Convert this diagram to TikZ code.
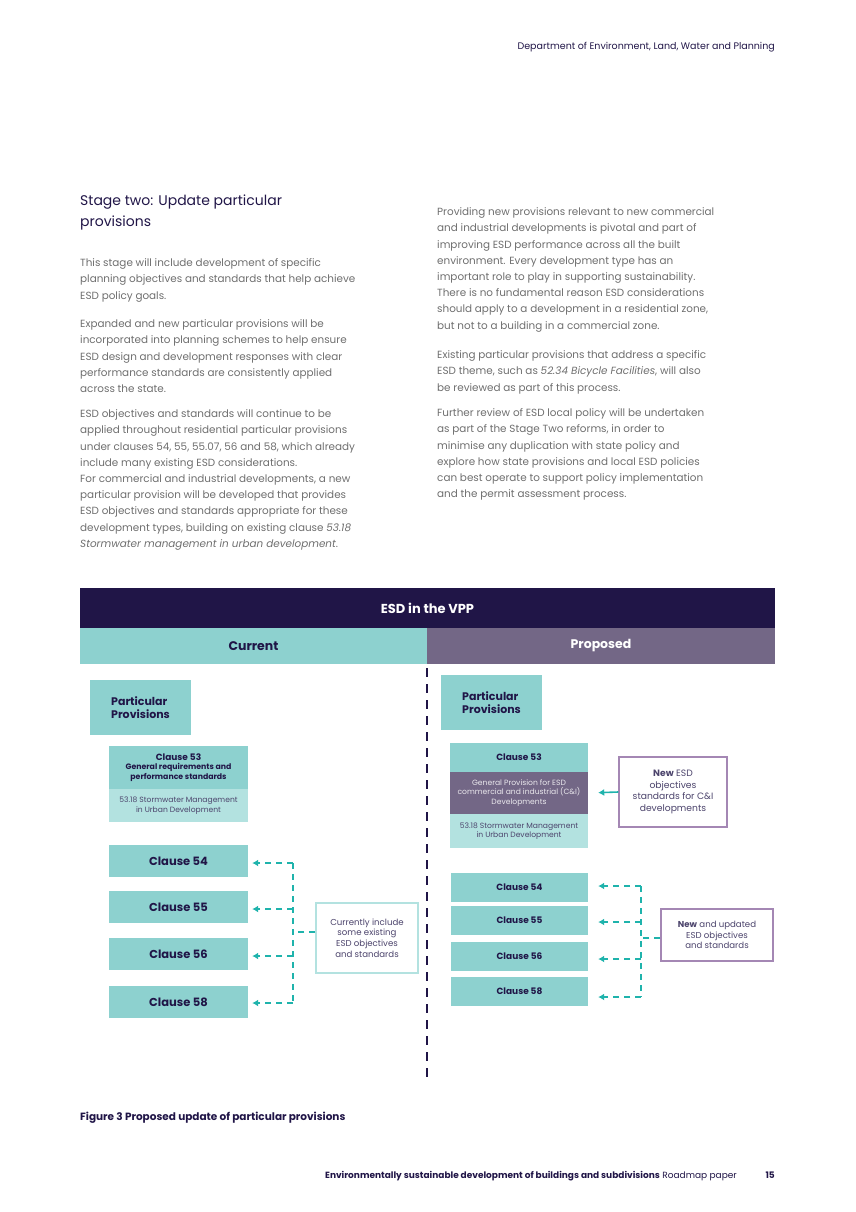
\documentclass[tikz,border=0pt]{standalone}
\usepackage{fontspec}
\setmainfont{Poppins}
\usepackage{tikz}
\usetikzlibrary{arrows.meta,positioning}
\definecolor{navy}{HTML}{201547}
\definecolor{teal}{HTML}{8DD1CF}
\definecolor{lteal}{HTML}{B3E2E0}
\definecolor{plum}{HTML}{736786}
\definecolor{plumline}{HTML}{A487B4}
\definecolor{arrowteal}{HTML}{1FB3AC}
\definecolor{bodygrey}{HTML}{6E6E6E}
\tikzset{
  bodyline/.style={anchor=mid west, inner sep=0pt, text=bodygrey, font=\fontsize{10.4}{12}\selectfont},
  clause/.style={fill=teal, text=navy, inner sep=0pt, minimum width=139pt, font=\bfseries},
  ppbox/.style={fill=teal, text=navy, inner sep=0pt, minimum width=101pt, minimum height=55pt, align=left, font=\fontsize{11}{13}\selectfont\bfseries},
  notebox/.style={draw, line width=1.2pt, fill=white, text=navy!80, align=center, inner sep=0pt, font=\fontsize{8.6}{10.6}\selectfont},
  dashline/.style={arrowteal, line width=1.5pt, dash pattern=on 6pt off 5pt},
  dasharrow/.style={dashline, -{Latex[length=6pt,width=7pt]}, shorten >=4pt}
}
\begin{document}
\begin{tikzpicture}[x=1pt,y=-1pt]
\useasboundingbox (0,0) rectangle (856,1212);
% page header
\node[anchor=mid east, inner sep=0pt, text=navy, font=\fontsize{9.5}{11}\selectfont] (dept) at (775,47) {Department of Environment, Land, Water and Planning};

% left column
\node[anchor=mid west, inner sep=0pt, text=navy, align=left, font=\fontsize{14}{21}\selectfont] (heading) at (80,224) {Stage two: Update particular\\provisions};
\foreach \t [count=\i] in {{This stage will include development of specific},
  {planning objectives and standards that help achieve},{ESD policy goals.}}
  \node[bodyline] (pa\i) at (80,{264+16.2*(\i-1)}) {\t};
\foreach \t [count=\i] in {{Expanded and new particular provisions will be},
  {incorporated into planning schemes to help ensure},
  {ESD design and development responses with clear},
  {performance standards are consistently applied},{across the state.}}
  \node[bodyline] (pb\i) at (80,{325+16.2*(\i-1)}) {\t};
\foreach \t [count=\i] in {{ESD objectives and standards will continue to be},
  {applied throughout residential particular provisions},
  {under clauses 54, 55, 55.07, 56 and 58, which already},
  {include many existing ESD considerations.},
  {For commercial and industrial developments, a new},
  {particular provision will be developed that provides},
  {ESD objectives and standards appropriate for these},
  {development types, building on existing clause \textit{53.18}},
  {\textit{Stormwater management in urban development}.}}
  \node[bodyline] (pc\i) at (80,{415+16.2*(\i-1)}) {\t};

% right column
\foreach \t [count=\i] in {{Providing new provisions relevant to new commercial},
  {and industrial developments is pivotal and part of},
  {improving ESD performance across all the built},
  {environment. Every development type has an},
  {important role to play in supporting sustainability.},
  {There is no fundamental reason ESD considerations},
  {should apply to a development in a residential zone,},
  {but not to a building in a commercial zone.}}
  \node[bodyline] (qa\i) at (437,{213+16.2*(\i-1)}) {\t};
\foreach \t [count=\i] in {{Existing particular provisions that address a specific},
  {ESD theme, such as \textit{52.34 Bicycle Facilities}, will also},
  {be reviewed as part of this process.}}
  \node[bodyline] (qb\i) at (437,{356+16.2*(\i-1)}) {\t};
\foreach \t [count=\i] in {{Further review of ESD local policy will be undertaken},
  {as part of the Stage Two reforms, in order to},
  {minimise any duplication with state policy and},
  {explore how state provisions and local ESD policies},
  {can best operate to support policy implementation},
  {and the permit assessment process.}}
  \node[bodyline] (qc\i) at (437,{414+16.2*(\i-1)}) {\t};

% diagram headers
\fill[navy] (80,588) rectangle (775,628);
\node[text=white, font=\fontsize{13}{15}\selectfont\bfseries] (title) at (427.5,608) {ESD in the VPP};
\fill[teal] (80,628) rectangle (427,664);
\node[text=navy, font=\fontsize{12.5}{15}\selectfont\bfseries] (cur) at (253.5,646) {Current};
\fill[plum] (427,628) rectangle (775,664);
\node[text=white, font=\fontsize{12.5}{15}\selectfont\bfseries] (prop) at (601,646) {Proposed};
\draw[navy, line width=2.6pt, dash pattern=on 9pt off 7pt] (427,668) -- (427,1082);

% current side
\node[ppbox] (lpp) at (140.5,707.5) {Particular\\Provisions};
\node[clause, minimum height=43pt, align=center, font=\fontsize{7.8}{9.6}\selectfont\bfseries] (l53) at (178.5,767.5) {{\fontsize{9}{11}\selectfont Clause 53}\\General requirements and\\performance standards};
\node[fill=lteal, text=navy!80, inner sep=0pt, minimum width=139pt, minimum height=33pt, align=center, font=\fontsize{7.6}{9.4}\selectfont] (l5318) at (178.5,805.5) {53.18 Stormwater Management\\in Urban Development};
\node[clause, minimum height=32pt, font=\fontsize{11.5}{13}\selectfont\bfseries] (l54) at (178.5,861) {Clause 54};
\node[clause, minimum height=32pt, font=\fontsize{11.5}{13}\selectfont\bfseries] (l55) at (178.5,907) {Clause 55};
\node[clause, minimum height=32pt, font=\fontsize{11.5}{13}\selectfont\bfseries] (l56) at (178.5,954) {Clause 56};
\node[clause, minimum height=32pt, font=\fontsize{11.5}{13}\selectfont\bfseries] (l58) at (178.5,1002) {Clause 58};
\node[notebox, draw=lteal, minimum width=102pt, minimum height=70pt] (lnote) at (367,938) {Currently include\\some existing\\ESD objectives\\and standards};
\coordinate (lb54) at (293,863);
\coordinate (lb55) at (293,909);
\coordinate (lb56) at (293,956);
\coordinate (lb58) at (293,1003);
\coordinate (lbm) at (293,932);
\draw[dashline] (lb54) -- (lb58);
\draw[dashline] (lnote.west |- lbm) -- (lbm);
\foreach \c in {54,55,56,58}
  \draw[dasharrow] (lb\c) -- (l\c.east |- lb\c);

% proposed side
\node[ppbox] (rpp) at (491.5,702.5) {Particular\\Provisions};
\node[clause, minimum width=138pt, minimum height=29pt, font=\fontsize{9}{11}\selectfont\bfseries] (r53) at (519,757.5) {Clause 53};
\node[fill=plum, text=white!85!plum, inner sep=0pt, minimum width=138pt, minimum height=42pt, align=center, font=\fontsize{7.6}{9.6}\selectfont] (rgp) at (519,793) {General Provision for ESD\\commercial and industrial (C\&I)\\Developments};
\node[fill=lteal, text=navy!80, inner sep=0pt, minimum width=138pt, minimum height=34pt, align=center, font=\fontsize{7.6}{9.4}\selectfont] (r5318) at (519,831) {53.18 Stormwater Management\\in Urban Development};
\node[notebox, draw=plumline, minimum width=108pt, minimum height=70pt, font=\fontsize{9.2}{11.4}\selectfont] (rnew) at (673,792) {\textbf{New} ESD\\objectives\\standards for C\&I\\developments};
\draw[arrowteal, line width=1.6pt, -{Latex[length=6pt,width=7pt]}, shorten >=10pt] (rnew.west) -- (rgp.east);
\node[clause, minimum width=137pt, minimum height=29pt, font=\fontsize{9}{11}\selectfont\bfseries] (r54) at (519.5,887.5) {Clause 54};
\node[clause, minimum width=137pt, minimum height=29pt, font=\fontsize{9}{11}\selectfont\bfseries] (r55) at (519.5,920.5) {Clause 55};
\node[clause, minimum width=137pt, minimum height=29pt, font=\fontsize{9}{11}\selectfont\bfseries] (r56) at (519.5,956.5) {Clause 56};
\node[clause, minimum width=137pt, minimum height=29pt, font=\fontsize{9}{11}\selectfont\bfseries] (r58) at (519.5,991.5) {Clause 58};
\node[notebox, draw=plumline, minimum width=112pt, minimum height=52pt] (rnote) at (717,935) {\textbf{New} and updated\\ESD objectives\\and standards};
\coordinate (rb54) at (641,886);
\coordinate (rb55) at (641,922);
\coordinate (rb56) at (641,959);
\coordinate (rb58) at (641,997);
\coordinate (rbm) at (641,938);
\draw[dashline] (rb54) -- (rb58);
\draw[dashline] (rnote.west |- rbm) -- (rbm);
\foreach \c in {54,55,56,58}
  \draw[dasharrow] (rb\c) -- ([xshift=6pt]r\c.east |- rb\c);

% caption and footer
\node[anchor=mid west, inner sep=0pt, text=navy, font=\fontsize{10.5}{12}\selectfont\bfseries] (cap) at (80,1118) {Figure 3 Proposed update of particular provisions};
\node[anchor=mid east, inner sep=0pt, text=navy, font=\fontsize{9}{11}\selectfont] (foot) at (737,1176) {\textbf{Environmentally sustainable development of buildings and subdivisions} Roadmap paper};
\node[anchor=mid east, inner sep=0pt, text=navy, font=\fontsize{9}{11}\selectfont\bfseries] (pg) at (775,1176) {15};
\end{tikzpicture}
\end{document}
